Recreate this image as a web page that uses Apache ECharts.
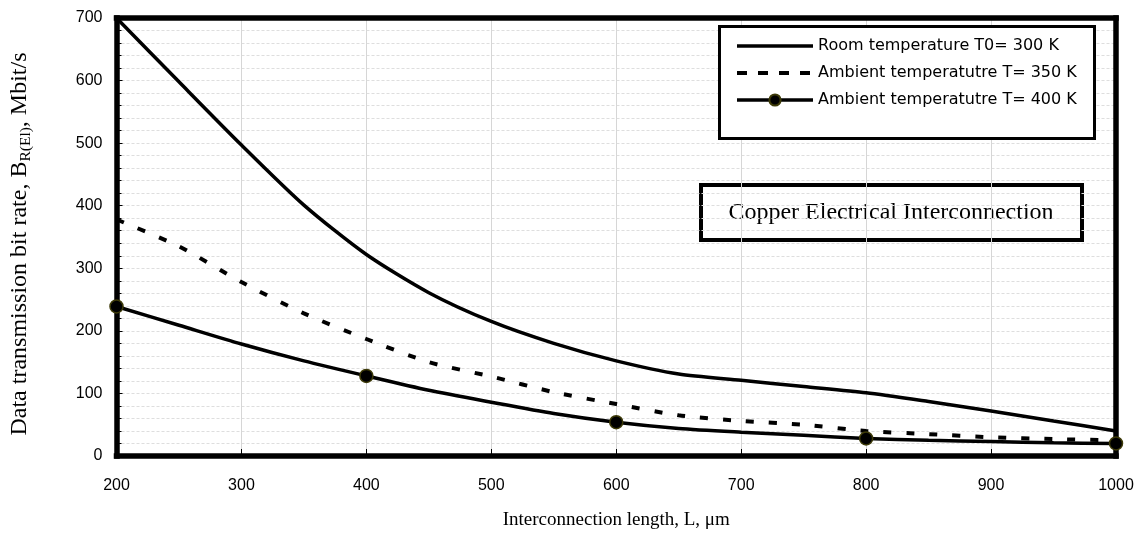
<!DOCTYPE html>
<html>
<head>
<meta charset="utf-8">
<script src="https://cdn.jsdelivr.net/npm/echarts@6/dist/echarts.min.js"></script>
<style>
  html, body { margin: 0; padding: 0; background: #fff; }
  #main { width: 1142px; height: 541px; }
</style>
</head>
<body>
<div id="main"></div>
<script>
// interconnection length, um  ->  bit rate, Mbit/s
var lengths = [200, 250, 300, 350, 400, 450, 500, 550, 600, 650, 700, 750, 800, 850, 900, 950, 1000];
var rateRoom = [700, 598, 497, 401, 322, 261, 215, 180, 152, 131, 121, 111, 101, 87, 72, 56, 40];
var rate350 = [378, 335, 278, 228, 187, 150, 127, 102, 83, 65, 56, 50, 40, 35, 30, 27, 25];
var rate400 = [239, 209, 179, 152, 128, 105, 86, 68, 54, 44, 38, 33, 28, 25, 23, 21, 20];
var markerAt400 = [200, 400, 600, 800, 1000];

var seriesNames = ['Room temperature T0= 300 K', 'Ambient temperatutre T= 350 K', 'Ambient temperatutre T= 400 K'];
var noteText = 'Copper Electrical Interconnection';

function pairs(xs, ys) {
  return xs.map(function (x, i) { return [x, ys[i]]; });
}

var myChart = echarts.init(document.getElementById('main'));

var axisFont = { fontFamily: 'Liberation Sans', fontSize: 16, color: '#000' };
var frameLine = { show: true, onZero: false, lineStyle: { color: '#000', width: 5.5, cap: 'square' } };
var noSymbol = { color: 'transparent', borderWidth: 0, opacity: 0 };

var option = {
  animation: false,
  backgroundColor: '#fff',
  grid: { left: 116, right: 26, top: 18, bottom: 85 },
  legend: {
    orient: 'vertical',
    left: 735,
    top: 38,
    z: 20,
    itemWidth: 76,
    itemHeight: 14,
    itemGap: 11,
    padding: 0,
    lineStyle: { width: 3.5 },
    textStyle: { fontFamily: 'DejaVu Sans', fontSize: 16, color: '#000' },
    data: [
      { name: seriesNames[0], itemStyle: noSymbol },
      { name: seriesNames[1], itemStyle: noSymbol, lineStyle: { width: 4, type: [10, 11] } },
      { name: seriesNames[2] }
    ]
  },
  xAxis: [
    {
      type: 'value',
      min: 200, max: 1000, interval: 100,
      name: 'Interconnection length, L, \u03bcm',
      nameLocation: 'middle',
      nameGap: 55,
      nameTextStyle: { fontFamily: 'Liberation Serif', fontSize: 19, color: '#000' },
      axisLine: frameLine,
      axisTick: { show: true, inside: true, length: 7, lineStyle: { color: '#000' } },
      axisLabel: Object.assign({ margin: 22, formatter: function (v) { return String(v); } }, axisFont),
      splitLine: { show: true, lineStyle: { color: '#d6d6d6', width: 1 } }
    },
    {
      type: 'value', position: 'top',
      min: 200, max: 1000, interval: 100,
      axisLine: frameLine,
      axisTick: { show: false }, axisLabel: { show: false }, splitLine: { show: false }
    }
  ],
  yAxis: [
    {
      type: 'value',
      min: 0, max: 700, interval: 100,
      name: 'Data transmission bit rate, B{sub|R(El)}, Mbit/s',
      nameLocation: 'middle',
      nameGap: 83,
      nameTextStyle: {
        fontFamily: 'Liberation Serif', fontSize: 24, color: '#000',
        padding: [0, 14, 0, 0],
        rich: { sub: { fontFamily: 'Liberation Serif', fontSize: 15.5, color: '#000', verticalAlign: 'bottom', padding: [11, 0, 0, 0] } }
      },
      axisLine: frameLine,
      axisTick: { show: true, inside: true, length: 6, lineStyle: { color: '#000' } },
      minorTick: { show: true, splitNumber: 5, length: 5, lineStyle: { color: '#000' } },
      axisLabel: Object.assign({ margin: 14 }, axisFont),
      splitLine: { show: true, lineStyle: { color: '#dedede', width: 1.2, type: [3, 2] } },
      minorSplitLine: { show: true, lineStyle: { color: '#dedede', width: 1.2, type: [3, 2] } }
    },
    {
      type: 'value', position: 'right',
      min: 0, max: 700, interval: 100,
      axisLine: frameLine,
      axisTick: { show: false }, axisLabel: { show: false }, splitLine: { show: false }
    }
  ],
  series: [
    {
      name: seriesNames[0],
      type: 'line',
      data: pairs(lengths, rateRoom),
      smooth: 0.25,
      symbol: 'none',
      lineStyle: { color: '#000', width: 3.5 },
      itemStyle: { color: '#000' },
      z: 3
    },
    {
      name: seriesNames[1],
      type: 'line',
      data: pairs(lengths, rate350),
      smooth: 0.25,
      symbol: 'none',
      lineStyle: { color: '#000', width: 4, type: [8, 15] },
      itemStyle: { color: '#000' },
      z: 3
    },
    {
      name: seriesNames[2],
      type: 'line',
      data: pairs(lengths, rate400).map(function (p) {
        var shown = markerAt400.indexOf(p[0]) >= 0;
        return { value: p, symbol: shown ? 'circle' : 'none' };
      }),
      smooth: 0.25,
      symbol: 'circle',
      symbolSize: 13,
      showAllSymbol: true,
      lineStyle: { color: '#000', width: 3.5 },
      itemStyle: { color: '#000', borderColor: '#3d3a08', borderWidth: 1.5 },
      z: 4
    }
  ],
  graphic: [
    {
      type: 'rect',
      left: 718, top: 25,
      shape: { width: 375, height: 112 },
      style: { fill: '#fff', stroke: '#000', lineWidth: 3 },
      z: 6
    },
    {
      type: 'group',
      left: 699, top: 183,
      z: 6,
      children: [
        {
          type: 'rect',
          shape: { width: 381, height: 55 },
          style: { fill: '#fff', stroke: '#000', lineWidth: 4 }
        },
        {
          type: 'text',
          x: 190, y: 28,
          style: {
            text: noteText,
            fontFamily: 'Liberation Serif',
            fontSize: 24,
            fill: '#000',
            align: 'center',
            verticalAlign: 'middle'
          }
        }
      ]
    }
  ]
};

myChart.setOption(option);
</script>
</body>
</html>
